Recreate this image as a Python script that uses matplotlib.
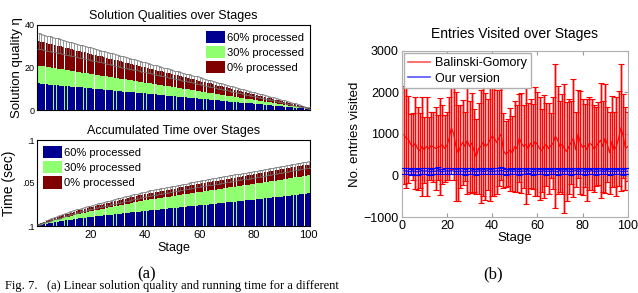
import matplotlib
matplotlib.use("Agg")
import matplotlib.pyplot as plt
from matplotlib.lines import Line2D
import numpy as np

plt.rcParams['font.family'] = ['Liberation Sans', 'DejaVu Sans']

stages = list(range(1, 101))

# ---- (a) top: solution quality ----
q60 = [12.5,12.4,12.3,12.1,12.0,11.9,11.8,11.7,11.5,11.4,
       11.3,11.2,11.0,10.9,10.8,10.7,10.6,10.4,10.3,10.2,
       10.1,10.0,9.8,9.7,9.6,9.5,9.4,9.2,9.1,9.0,
       8.9,8.7,8.6,8.5,8.4,8.3,8.1,8.0,7.9,7.8,
       7.7,7.5,7.4,7.3,7.2,7.1,6.9,6.8,6.7,6.6,
       6.4,6.3,6.2,6.1,6.0,5.8,5.7,5.6,5.5,5.4,
       5.2,5.1,5.0,4.9,4.8,4.6,4.5,4.4,4.3,4.1,
       4.0,3.9,3.8,3.7,3.5,3.4,3.3,3.2,3.1,2.9,
       2.8,2.7,2.6,2.5,2.3,2.2,2.1,2.0,1.8,1.7,
       1.6,1.5,1.4,1.2,1.1,1.0,0.9,0.8,0.6,0.5]
q30 = [20.9,20.7,20.5,20.3,20.1,19.9,19.7,19.5,19.3,19.1,
       18.9,18.7,18.5,18.2,18.0,17.8,17.6,17.4,17.2,17.0,
       16.8,16.6,16.4,16.2,16.0,15.8,15.6,15.4,15.2,15.0,
       14.8,14.6,14.4,14.2,14.0,13.8,13.6,13.4,13.1,12.9,
       12.7,12.5,12.3,12.1,11.9,11.7,11.5,11.3,11.1,10.9,
       10.7,10.5,10.3,10.1,9.9,9.7,9.5,9.3,9.1,8.9,
       8.7,8.5,8.2,8.0,7.8,7.6,7.4,7.2,7.0,6.8,
       6.6,6.4,6.2,6.0,5.8,5.6,5.4,5.2,5.0,4.8,
       4.6,4.4,4.2,4.0,3.8,3.6,3.4,3.1,2.9,2.7,
       2.5,2.3,2.1,1.9,1.7,1.5,1.3,1.1,0.9,0.7]
q0 = [32.5,32.2,31.9,31.5,31.2,30.9,30.6,30.3,30.0,29.6,
      29.3,29.0,28.7,28.4,28.0,27.7,27.4,27.1,26.8,26.5,
      26.1,25.8,25.5,25.2,24.9,24.5,24.2,23.9,23.6,23.3,
      23.0,22.6,22.3,22.0,21.7,21.4,21.1,20.7,20.4,20.1,
      19.8,19.5,19.1,18.8,18.5,18.2,17.9,17.6,17.2,16.9,
      16.6,16.3,16.0,15.6,15.3,15.0,14.7,14.4,14.1,13.7,
      13.4,13.1,12.8,12.5,12.2,11.8,11.5,11.2,10.9,10.6,
      10.2,9.9,9.6,9.3,9.0,8.7,8.3,8.0,7.7,7.4,
      7.1,6.7,6.4,6.1,5.8,5.5,5.2,4.8,4.5,4.2,
      3.9,3.6,3.3,2.9,2.6,2.3,2.0,1.7,1.3,1.0]
q0_err = [3.6,3.6,3.5,3.5,3.5,3.4,3.4,3.4,3.3,3.3,
          3.3,3.2,3.2,3.2,3.1,3.1,3.1,3.0,3.0,3.0,
          2.9,2.9,2.9,2.8,2.8,2.8,2.7,2.7,2.7,2.6,
          2.6,2.6,2.5,2.5,2.5,2.4,2.4,2.4,2.3,2.3,
          2.3,2.2,2.2,2.2,2.1,2.1,2.1,2.0,2.0,2.0,
          1.9,1.9,1.9,1.8,1.8,1.8,1.7,1.7,1.7,1.6,
          1.6,1.6,1.5,1.5,1.5,1.4,1.4,1.4,1.3,1.3,
          1.3,1.2,1.2,1.2,1.1,1.1,1.1,1.0,1.0,1.0,
          0.9,0.9,0.9,0.8,0.8,0.8,0.7,0.7,0.7,0.6,
          0.6,0.6,0.5,0.5,0.5,0.4,0.4,0.4,0.3,0.3]

# ---- (a) bottom: accumulated time ----
t60 = [0.0010,0.0016,0.0022,0.0028,0.0034,0.0040,0.0045,0.0050,0.0055,0.0060,
       0.0065,0.0070,0.0075,0.0080,0.0084,0.0088,0.0092,0.0097,0.0101,0.0105,
       0.0109,0.0112,0.0116,0.0119,0.0123,0.0126,0.0130,0.0133,0.0137,0.0140,
       0.0143,0.0147,0.0150,0.0154,0.0157,0.0161,0.0164,0.0167,0.0171,0.0174,
       0.0177,0.0181,0.0184,0.0187,0.0190,0.0194,0.0197,0.0200,0.0204,0.0207,
       0.0210,0.0213,0.0217,0.0220,0.0223,0.0227,0.0230,0.0233,0.0236,0.0240,
       0.0243,0.0247,0.0250,0.0253,0.0257,0.0260,0.0264,0.0267,0.0270,0.0274,
       0.0277,0.0281,0.0284,0.0287,0.0291,0.0294,0.0298,0.0301,0.0304,0.0308,
       0.0311,0.0315,0.0318,0.0322,0.0325,0.0329,0.0332,0.0336,0.0339,0.0343,
       0.0346,0.0350,0.0353,0.0357,0.0360,0.0364,0.0367,0.0371,0.0374,0.0378]
t30 = [0.0015,0.0024,0.0033,0.0042,0.0051,0.0060,0.0068,0.0076,0.0084,0.0092,
       0.0100,0.0109,0.0118,0.0126,0.0134,0.0141,0.0149,0.0156,0.0163,0.0170,
       0.0177,0.0183,0.0190,0.0196,0.0203,0.0209,0.0216,0.0222,0.0229,0.0235,
       0.0242,0.0248,0.0255,0.0261,0.0268,0.0274,0.0281,0.0287,0.0294,0.0300,
       0.0305,0.0310,0.0314,0.0319,0.0324,0.0329,0.0334,0.0338,0.0343,0.0348,
       0.0353,0.0358,0.0362,0.0367,0.0372,0.0377,0.0382,0.0386,0.0391,0.0396,
       0.0401,0.0405,0.0410,0.0415,0.0420,0.0424,0.0429,0.0434,0.0438,0.0443,
       0.0448,0.0452,0.0457,0.0462,0.0467,0.0471,0.0476,0.0481,0.0485,0.0490,
       0.0495,0.0500,0.0505,0.0510,0.0515,0.0519,0.0524,0.0529,0.0534,0.0539,
       0.0544,0.0549,0.0554,0.0559,0.0564,0.0568,0.0573,0.0578,0.0583,0.0588]
t0 = [0.0018,0.0030,0.0042,0.0054,0.0066,0.0078,0.0090,0.0101,0.0112,0.0123,
      0.0134,0.0144,0.0154,0.0164,0.0173,0.0182,0.0191,0.0200,0.0208,0.0216,
      0.0224,0.0232,0.0240,0.0247,0.0255,0.0263,0.0270,0.0278,0.0286,0.0293,
      0.0301,0.0309,0.0316,0.0324,0.0332,0.0339,0.0347,0.0355,0.0362,0.0370,
      0.0376,0.0382,0.0388,0.0394,0.0400,0.0406,0.0412,0.0418,0.0424,0.0430,
      0.0436,0.0442,0.0448,0.0454,0.0460,0.0466,0.0472,0.0478,0.0484,0.0490,
      0.0496,0.0501,0.0507,0.0512,0.0518,0.0523,0.0529,0.0534,0.0540,0.0545,
      0.0551,0.0556,0.0562,0.0567,0.0573,0.0578,0.0584,0.0589,0.0595,0.0600,
      0.0606,0.0612,0.0617,0.0623,0.0629,0.0635,0.0640,0.0646,0.0652,0.0658,
      0.0663,0.0669,0.0675,0.0681,0.0686,0.0692,0.0698,0.0704,0.0709,0.0715]
t0_err = [0.0005,0.0007,0.0009,0.0011,0.0012,0.0013,0.0014,0.0015,0.0016,0.0017,
          0.0018,0.0018,0.0019,0.0019,0.0020,0.0020,0.0021,0.0021,0.0022,0.0022,
          0.0023,0.0023,0.0024,0.0024,0.0025,0.0025,0.0026,0.0026,0.0027,0.0027,
          0.0028,0.0028,0.0028,0.0029,0.0029,0.0029,0.0030,0.0030,0.0030,0.0031,
          0.0031,0.0031,0.0031,0.0032,0.0032,0.0032,0.0032,0.0033,0.0033,0.0033,
          0.0033,0.0033,0.0034,0.0034,0.0034,0.0034,0.0034,0.0035,0.0035,0.0035,
          0.0035,0.0035,0.0035,0.0036,0.0036,0.0036,0.0036,0.0036,0.0036,0.0037,
          0.0037,0.0037,0.0037,0.0037,0.0037,0.0037,0.0037,0.0037,0.0038,0.0038,
          0.0038,0.0038,0.0038,0.0038,0.0038,0.0039,0.0039,0.0039,0.0039,0.0039,
          0.0039,0.0039,0.0039,0.0040,0.0040,0.0040,0.0040,0.0040,0.0040,0.0040]

series_labels = ['60% processed', '30% processed', '0% processed']
series_colors = ['#000090', '#90ff70', '#800000']

# ---- (b) entries visited ----
bg_mean = [976,900,870,750,700,780,650,600,700,620,
           700,650,720,690,650,680,700,750,650,720,
           900,1150,1000,700,550,700,800,700,850,700,
           780,600,450,650,700,800,700,750,850,950,
           900,800,900,1000,600,520,560,620,540,700,
           650,900,780,700,750,650,780,700,820,750,
           650,600,700,750,650,720,780,950,850,700,
           750,650,580,700,800,900,620,1000,800,680,
           720,620,780,750,650,700,780,850,700,900,
           750,550,820,620,700,900,1150,950,650,700]
bg_err = [1170,1200,1050,720,800,1100,1000,900,1200,800,
          1180,750,820,850,1000,780,1170,950,800,820,
          1000,990,1100,1300,1150,1000,1016,840,1300,1100,
          1200,1000,900,1100,1350,1300,1280,1100,1450,1450,
          1400,1250,1150,1100,900,800,800,1000,900,1100,
          1050,1050,1200,1000,1420,1100,1070,1020,1300,1250,
          1230,1000,1230,1000,1100,780,1100,1720,1300,1100,
          1200,1550,1200,1150,1000,1420,900,1050,1240,1150,
          1000,1230,1120,1100,1050,960,1000,1380,1100,1310,
          900,990,1100,900,1200,1140,1520,1000,1000,830]
ours_mean = [120,110,105,95,115,100,90,110,120,105,
             115,100,95,110,105,120,100,95,110,115,
             105,120,110,95,100,115,105,90,110,100,
             120,105,95,110,115,100,105,120,95,110,
             100,115,105,130,110,95,105,120,100,110,
             115,95,105,110,100,120,105,95,110,115,
             100,105,120,95,110,100,115,105,95,120,
             110,100,115,105,95,110,120,100,105,115,
             95,110,100,120,105,95,110,115,100,105,
             120,95,110,105,100,115,105,95,110,105]
ours_err = [70,65,75,70,65,75,70,68,72,70,
            65,75,70,68,72,80,70,65,75,70,
            68,75,70,65,72,70,75,68,70,72,
            70,65,75,70,72,68,70,75,65,70,
            72,70,68,80,75,70,65,72,70,68,
            70,75,72,65,70,68,75,70,72,70,
            65,70,75,68,72,70,65,75,70,72,
            70,68,72,75,70,65,72,70,68,75,
            70,72,65,70,75,68,70,72,70,65,
            75,70,68,72,70,65,75,70,72,70]

fig = plt.figure(figsize=(6.38, 2.93), dpi=100)

def px_axes(x0, y0, x1, y1):
    W, H = 638.0, 293.0
    return fig.add_axes([x0 / W, 1 - y1 / H, (x1 - x0) / W, (y1 - y0) / H])

x = np.array(stages)
order = [2, 1, 0]
leg_kw = dict(fontsize=8, handlelength=1.7, handleheight=1.4, labelspacing=0.2,
              handletextpad=0.2, borderaxespad=0.3, borderpad=0.2, frameon=True,
              fancybox=False, edgecolor='white', framealpha=1)

# top-left
ax1 = px_axes(37.3, 25, 310, 110)
ax1.bar(x, q0, width=0.88, color=series_colors[2], linewidth=0, label=series_labels[2], zorder=1)
ax1.bar(x, q30, width=0.95, color=series_colors[1], linewidth=0, label=series_labels[1], zorder=2)
ax1.bar(x, q60, width=0.85, color=series_colors[0], linewidth=0, label=series_labels[0], zorder=3)
ax1.errorbar(x, q0, yerr=q0_err, fmt='none', ecolor='#707070', elinewidth=0.5, capsize=1.2, capthick=0.5, zorder=4)
ax1.set_xlim(0.5, 100.5)
ax1.set_ylim(0, 40)
ax1.set_yticks([0, 20, 40])
ax1.set_xticks([])
ax1.tick_params(axis='y', labelsize=6.5, length=0, pad=2)
ax1.set_title('Solution Qualities over Stages', fontsize=9, pad=4)
ax1.set_ylabel('Solution quality η', fontsize=9.5, labelpad=1)
h, l = ax1.get_legend_handles_labels()
ax1.legend([h[i] for i in order], [l[i] for i in order], loc='upper right', **leg_kw)
for s in ax1.spines.values():
    s.set_linewidth(0.8)

# bottom-left
ax2 = px_axes(37.3, 140, 310, 226)
ax2.bar(x, t0, width=0.88, color=series_colors[2], linewidth=0, label=series_labels[2], zorder=1)
ax2.bar(x, t30, width=0.95, color=series_colors[1], linewidth=0, label=series_labels[1], zorder=2)
ax2.bar(x, t60, width=0.85, color=series_colors[0], linewidth=0, label=series_labels[0], zorder=3)
ax2.errorbar(x, t0, yerr=t0_err, fmt='none', ecolor='#707070', elinewidth=0.5, capsize=1.2, capthick=0.5, zorder=4)
ax2.set_xlim(0.5, 100.5)
ax2.set_ylim(0, 0.1)
ax2.set_yticks([0, 0.05, 0.1])
ax2.set_yticklabels(['.1', '.05', '.1'])
ax2.set_xticks([20, 40, 60, 80, 100])
ax2.tick_params(axis='y', labelsize=6.5, length=0, pad=2)
ax2.tick_params(axis='x', labelsize=8, length=0, pad=3)
ax2.set_title('Accumulated Time over Stages', fontsize=9, pad=4)
ax2.set_ylabel('Time (sec)', fontsize=10, labelpad=4)
ax2.set_xlabel('Stage', fontsize=9, labelpad=1)
h, l = ax2.get_legend_handles_labels()
ax2.legend([h[i] for i in order], [l[i] for i in order], loc='upper left', **leg_kw)
for s in ax2.spines.values():
    s.set_linewidth(0.8)

# right
ax3 = px_axes(401.7, 50.7, 627.7, 217.3)
bm = np.array(bg_mean); be = np.array(bg_err)
ax3.vlines(x, bm - be, bm + be, color='#ff8c8c', linewidth=1.9, zorder=1)
ax3.errorbar(x, bm, yerr=be, fmt='-', color='red', ecolor='red', linewidth=0.8,
             elinewidth=0.7, capsize=2.2, capthick=0.8, zorder=2)
om = np.array(ours_mean); oe = np.array(ours_err)
ax3.errorbar(x, om, yerr=oe, fmt='-', color='blue', ecolor='blue', linewidth=0.8,
             elinewidth=0.6, capsize=2.2, capthick=0.8, zorder=3)
ax3.set_xlim(0, 100)
ax3.set_ylim(-1000, 3000)
ax3.set_xticks([0, 20, 40, 60, 80, 100])
ax3.set_yticks([-1000, 0, 1000, 2000, 3000])
ax3.tick_params(direction='in', top=True, right=True, labelsize=9, length=3, color='#999999', pad=2)
for s in ax3.spines.values():
    s.set_color('#b0b0b0')
    s.set_linewidth(0.8)
ax3.set_title('Entries Visited over Stages', fontsize=10, pad=9)
ax3.set_ylabel('No. entries visited', fontsize=9.5, labelpad=2)
ax3.set_xlabel('Stage', fontsize=9.5, labelpad=0)
handles = [Line2D([], [], color='#ff5555', lw=1.2), Line2D([], [], color='#5555ff', lw=1.2)]
ax3.legend(handles, ['Balinski-Gomory', 'Our version'], loc='upper left', fontsize=9,
           handlelength=1.8, handletextpad=0.4, borderaxespad=0.2, fancybox=False,
           edgecolor='#b0b0b0', framealpha=1, borderpad=0.3, labelspacing=0.3)

# captions
serif = ['Liberation Serif', 'DejaVu Serif']
fig.text(147 / 638, 1 - 274 / 293, '(a)', ha='center', va='center', fontsize=12, family=serif)
fig.text(493 / 638, 1 - 274 / 293, '(b)', ha='center', va='center', fontsize=12, family=serif)
fig.text(5 / 638, 1 - 292.5 / 293, 'Fig. 7.   (a) Linear solution quality and running time for a different',
         ha='left', va='bottom', fontsize=9, family=serif)

fig.savefig('out.png', dpi=100)
